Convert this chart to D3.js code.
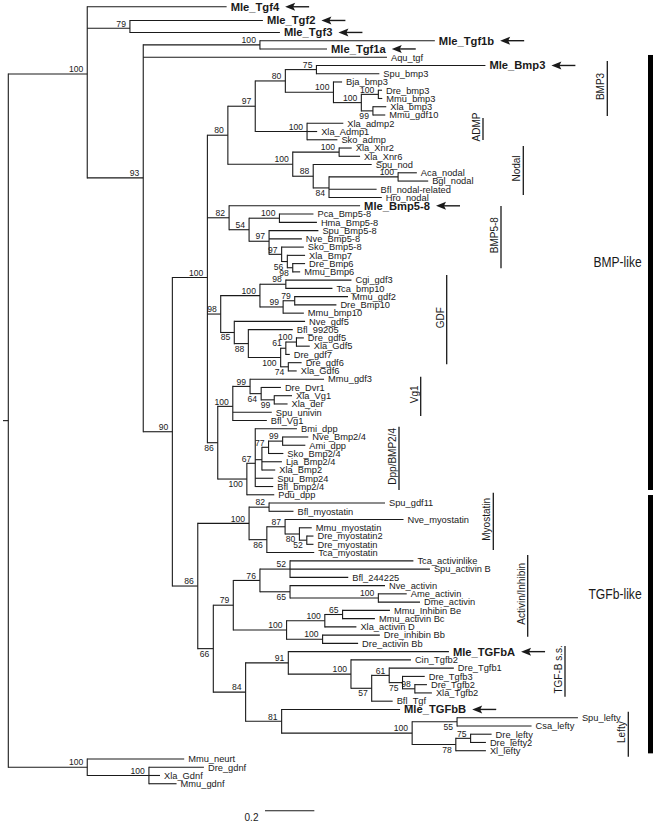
<!DOCTYPE html>
<html><head><meta charset="utf-8">
<script src="https://cdn.jsdelivr.net/npm/d3@7"></script>
<style>body{margin:0;background:#fff}svg{display:block}</style>
</head><body>
<svg id="c" width="655" height="821"></svg>
<script>
// ---------------- DATA ----------------
const bmpLike =
 "(((((Mle_Bmp3:0.685,Spu_bmp3:0.255)75:0.126,(Bja_bmp3:0.035,((Dre_bmp3:0.015,Mmu_bmp3:0.016)100:0.069,(Xla_bmp3:0.054,Mmu_gdf10:0.050)99:0.047)100:0.113)100:0.195)80:0.122," +
 "(Xla_admp2:0.147,Xla_Admp1:0.041,Sko_admp:0.123)100:0.210)97:0.111," +
 "((Xla_Xnr2:0.051,Xla_Xnr6:0.085)100:0.188,(Spu_nod:0.237,((Aca_nodal:0.076,Bgl_nodal:0.122)100:0.280,Bfl_nodal-related:0.193,Hro_nodal:0.214)84:0.064)88:0.083)100:0.263)80:0.083," +
 "(Mle_Bmp5-8:0.531,((Pca_Bmp5-8:0.138,Hma_Bmp5-8:0.152)100:0.123,(Spu_Bmp5-8:0.200,Nve_Bmp5-8:0.133,(Sko_Bmp5-8:0.090,(Xla_Bmp7:0.072,(Dre_Bmp6:0.050,Mmu_Bmp6:0.030)98:0.022)56:0.023)97:0.051)97:0.081)54:0.081)82:0.088," +
 "(((Cgi_gdf3:0.266,Tca_bmp10:0.189)98:0.105,((Mmu_gdf2:0.216,Dre_Bmp10:0.169)79:0.047,Mmu_bmp10:0.084)99:0.094)100:0.159,(Nve_gdf5:0.287,(Bfl_99205:0.180,(((Dre_gdf5:0.030,Xla_Gdf5:0.054)100:0.043,Dre_gdf7:0.016)61:0.021,(Dre_gdf6:0.054,Xla_Gdf6:0.034)74:0.031)100:0.131)88:0.057)85:0.055)98:0.054," +
 "(((Mmu_gdf3:0.300,(Dre_Dvr1:0.080,(Xla_Vg1:0.072,Xla_der:0.054)99:0.053)64:0.045)99:0.070,Spu_univin:0.158,Bfl_Vg1:0.138)100:0.061," +
 "((Bmi_dpp:0.169,(((Nve_Bmp2/4:0.104,Ami_dpp:0.092)99:0.057,Sko_Bmp2/4:0.060)77:0.027,Lja_Bmp2/4:0.081,Xla_Bmp2:0.054):0.027,Spu_Bmp24:0.073,Bfl_bmp2/4:0.073)67:0.034,Pdu_dpp:0.111)100:0.118)86:0.042)100:0.142";
const tgfbLike =
 "(((Spu_gdf11:0.470,Bfl_myostatin:0.099)82:0.081,((Nve_myostatin:0.480,(Mmu_myostatin:0.050,(Dre_myostatin2:0.027,Dre_myostatin:0.027)52:0.030)80:0.058)87:0.074,Tca_myostatin:0.192)86:0.072)100:0.208," +
 "((((Tca_activinlike:0.500,Spu_activin B:0.567,Bfl_244225:0.236)52:0.122,(Nve_activin:0.385,(Ame_activin:0.115,Dme_activin:0.169)100:0.358)65:0.122)76:0.108," +
 "(((Mmu_Inhibin Be:0.192,Mmu_activin Bc:0.131)65:0.072,Xla_activin D:0.128)100:0.155,(Dre_inhibin Bb:0.232,Dre_activin Bb:0.144)100:0.146)100:0.216)79:0.081," +
 "((Mle_TGFbA:0.651,(Cin_Tgfb2:0.243,((Dre_Tgfb1:0.262,(Dre_Tgfb3:0.090,(Dre_Tgfb2:0.049,Xla_Tgfb2:0.069)98:0.050)75:0.054)61:0.071,Bfl_Tgf:0.085)57:0.084)100:0.254)91:0.173," +
 "(Mle_TGFbB:0.480,((Spu_lefty:0.490,Csa_lefty:0.302)55:0.182,((Dre_lefty:0.085,Dre_lefty2:0.062)75:0.060,Xl_lefty:0.122)78:0.177)100:0.529)81:0.146)84:0.131)66:0.063)86:0.103";
const treeNewick =
 "((Mle_Tgf4:0.565,(Mle_Tgf2:0.539,Mle_Tgf3:0.608)79:0.173,((Mle_Tgf1b:0.709,Mle_Tgf1a:0.272)100:0.473,Aqu_tgf:0.988," +
 "(" + bmpLike + "," + tgfbLike + ")90:0.118)93:0.227)100:0.320," +
 "(Mmu_neurt:0.393,(Dre_gdnf:0.223,Xla_Gdnf:0.045,Mmu_gdnf:0.112)100:0.250)100:0.320);";

const markedLeaves = ["Mle_Tgf4","Mle_Tgf2","Mle_Tgf3","Mle_Tgf1b","Mle_Tgf1a","Mle_Bmp3","Mle_Bmp5-8","Mle_TGFbA","Mle_TGFbB"];

const cladeNames = ["BMP3","ADMP","Nodal","BMP5-8","GDF","Vg1","Dpp/BMP2/4","Myostatin","Activin/Inhibin","TGF-B s.s.","Lefty"];
const cladeFrom  = [5.46, 12.36, 15.75, 23.02, 31.38, 43.7, 49.75, 57.75, 65.3, 76.32, 84.27];
const cladeTo    = [12.12, 15.03, 21.69, 30.57, 42.2, 48.46, 57.42, 64.69, 75.19, 82.46, 89.72];

const groupNames = ["BMP-like","TGFb-like"];
const groupFrom  = [4.73, 58.03];
const groupTo    = [57.42, 89.32];

const scaleBarValue = 0.2;

// ---------------- LAYOUT ----------------
const cladeX = [607.3, 483, 523.3, 501, 446.7, 420.7, 399, 493.3, 527.7, 565, 628.3];
const groupBarX = 650.5;
const groupLabelSlot = [29.77, 69.98];
const groupLabelWidth = [48.3, 53.3];
const leafSlotOverride = {"Mle_Tgf4": -1.11, "Mle_Tgf2": 0.55};
const supportBelow = new Set([
 "Xla_bmp3|Mmu_gdf10","Aca_nodal|Hro_nodal","Nve_gdf5|Xla_Gdf6","Bfl_99205|Xla_Gdf6","Dre_gdf5|Xla_Gdf6",
 "Dre_gdf6|Xla_Gdf6","Mmu_gdf3|Pdu_dpp","Dre_Dvr1|Xla_der","Xla_Vg1|Xla_der","Bmi_dpp|Pdu_dpp",
 "Xla_Bmp7|Mmu_Bmp6","Dre_Bmp6|Mmu_Bmp6","Nve_myostatin|Tca_myostatin","Mmu_myostatin|Dre_myostatin",
 "Dre_myostatin2|Dre_myostatin","Nve_activin|Dme_activin","Tca_activinlike|Xl_lefty","Dre_Tgfb1|Bfl_Tgf",
 "Dre_Tgfb3|Xla_Tgfb2","Spu_lefty|Csa_lefty","Dre_lefty|Xl_lefty"]);

function parseNewick(s){
  let i=0;
  function node(){
    const n={children:[]};
    if(s[i]==='('){
      i++; n.children.push(node());
      while(s[i]===','){i++; n.children.push(node());}
      i++;
    }
    let name='';
    while(i<s.length && !',():;'.includes(s[i])) name+=s[i++];
    n.name=name.trim();
    n.length=0;
    if(s[i]===':'){i++; let l=''; while(i<s.length && !',();'.includes(s[i])) l+=s[i++]; n.length=+l;}
    return n;
  }
  return node();
}

const FONT = "'Liberation Sans', Arial, Helvetica, sans-serif";
const svg = d3.select("#c").attr("font-family", FONT);
svg.append("rect").attr("width",655).attr("height",821).attr("fill","#fff");

const root = d3.hierarchy(parseNewick(treeNewick), d => d.children.length ? d.children : null);
root.eachBefore(n => { n.dist = n.parent ? n.parent.dist + n.data.length : 0; });
const leaves = root.leaves();
const nLeaves = leaves.length;

const x = d3.scaleLinear().domain([0, 1]).range([8.3, 8.3 + 246.7]);
const y = d3.scaleLinear().domain([0, nLeaves - 1]).range([15.93, 15.93 + (nLeaves - 1) * 8.256]);

leaves.forEach((l, i) => { l.slot = i; });
root.eachAfter(n => {
  if (!n.children) { n.yc = y(n.slot); n.yd = (n.data.name in leafSlotOverride) ? y(leafSlotOverride[n.data.name]) : n.yc; }
  else { n.yc = d3.mean(n.children, c => c.yc); n.yd = n.yc; }
});

const ink = "#1a1a1a";
const g = svg.append("g").attr("stroke", ink).attr("stroke-width", 1.1).attr("fill", "none");

// root stub
g.append("line").attr("x1", x(0) - 5.3).attr("x2", x(0)).attr("y1", root.yd).attr("y2", root.yd);

root.descendants().forEach(n => {
  if (n.parent) {
    g.append("line").attr("x1", x(n.parent.dist)).attr("x2", x(n.dist)).attr("y1", n.yd).attr("y2", n.yd);
  }
  if (n.children) {
    const ys = n.children.map(c => c.yd);
    g.append("line").attr("x1", x(n.dist)).attr("x2", x(n.dist)).attr("y1", d3.min(ys) - 0.55).attr("y2", d3.max(ys) + 0.55);
  }
});

// support values
const sup = svg.append("g").attr("font-size", 8.6).attr("fill", ink).attr("text-anchor", "end");
root.descendants().filter(n => n.children && n.parent && n.data.name !== "").forEach(n => {
  const lv = n.leaves();
  const key = lv[0].data.name + "|" + lv[lv.length-1].data.name;
  const below = supportBelow.has(key);
  sup.append("text").attr("x", x(n.dist) - 4).attr("y", below ? n.yd + 8 : n.yd - 1.8).text(n.data.name);
});

// leaf labels + arrows
const lab = svg.append("g").attr("fill", ink);
leaves.forEach(l => {
  const marked = markedLeaves.includes(l.data.name);
  const t = lab.append("text").attr("x", x(l.dist) + 4).attr("y", l.yd + (marked ? 4 : 3.3))
    .attr("font-size", marked ? 11.2 : 9.3).attr("font-weight", marked ? "bold" : "normal").text(l.data.name);
  if (marked) {
    const w = t.node().getComputedTextLength();
    const x0 = x(l.dist) + 4 + w + 6, x1 = x0 + 24;
    lab.append("line").attr("x1", x0 + 6).attr("x2", x1).attr("y1", l.yd).attr("y2", l.yd).attr("stroke", ink).attr("stroke-width", 1.4);
    lab.append("path").attr("d", `M${x0},${l.yd} L${x0+10},${l.yd-4} L${x0+8},${l.yd} L${x0+10},${l.yd+4} Z`).attr("fill", ink);
  }
});

// clade bars
const cl = svg.append("g");
cladeNames.forEach((name, i) => {
  const y0 = y(cladeFrom[i]), y1 = y(cladeTo[i]);
  cl.append("line").attr("x1", cladeX[i]).attr("x2", cladeX[i]).attr("y1", y0).attr("y2", y1)
    .attr("stroke", ink).attr("stroke-width", 1.3);
  cl.append("text").attr("transform", `translate(${cladeX[i] - 3},${(y0 + y1) / 2 - 2}) rotate(-90)`)
    .attr("text-anchor", "middle").attr("font-size", 10).attr("fill", ink).text(name);
});
groupNames.forEach((name, i) => {
  const y0 = y(groupFrom[i]), y1 = y(groupTo[i]);
  cl.append("rect").attr("x", groupBarX - 2.5).attr("width", 5).attr("y", y0).attr("height", y1 - y0).attr("fill", "#000");
  cl.append("text").attr("x", 641.7).attr("y", y(groupLabelSlot[i]) + 5.5).attr("text-anchor", "end")
    .attr("font-size", 15).attr("textLength", groupLabelWidth[i]).attr("lengthAdjust", "spacingAndGlyphs")
    .attr("fill", ink).text(name);
});

// scale bar
const sbX = 265, sbY = 810.7;
svg.append("line").attr("x1", sbX).attr("x2", sbX + (x(scaleBarValue) - x(0))).attr("y1", sbY).attr("y2", sbY)
  .attr("stroke", ink).attr("stroke-width", 1.1);
svg.append("text").attr("x", 251.5).attr("y", 820.5).attr("text-anchor", "middle").attr("font-size", 10).attr("fill", ink).text(String(scaleBarValue));
</script>
</body></html>
